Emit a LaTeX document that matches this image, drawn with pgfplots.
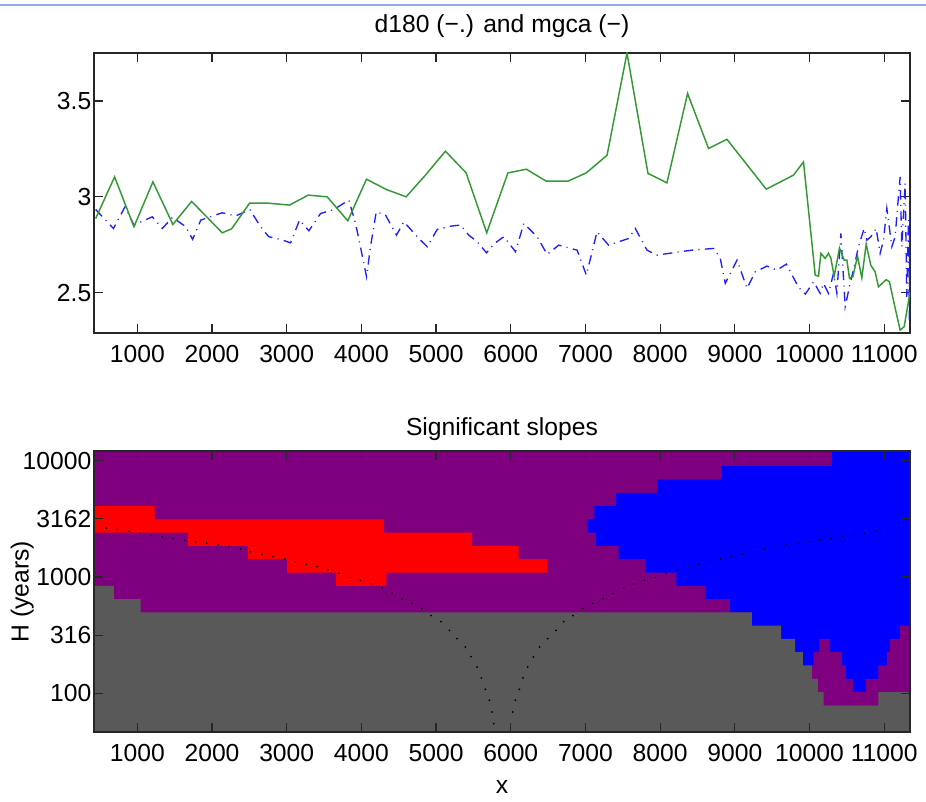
\documentclass[border=0pt]{standalone}
\usepackage{fontspec}
\setmainfont{Liberation Sans}
\usepackage{pgfplots}
\pgfplotsset{compat=1.18}
\definecolor{mpurple}{RGB}{127,0,127}
\definecolor{mred}{RGB}{255,0,0}
\definecolor{mblue}{RGB}{0,0,255}
\definecolor{mgray}{RGB}{89,89,89}
\definecolor{mgreen}{RGB}{51,153,51}
\definecolor{lblue}{RGB}{30,30,255}
\definecolor{topline}{RGB}{143,170,220}
\pgfplotsset{
  mystyle/.style={
    scale only axis, width=612pt, xmin=420, xmax=11345,
    axis line style={black!85, line width=0.9pt},
    tick style={black!85, line width=0.9pt},
    major tick length=6.5pt, tick align=inside,
    xtick={1000,2000,3000,4000,5000,6000,7000,8000,9000,10000,11000},
    xticklabels={1000,2000,3000,4000,5000,6000,7000,8000,9000,10000,11000},
    scaled ticks=false,
    /pgf/number format/1000 sep={},
    /pgf/number format/assume math mode=true,
    xticklabel style={yshift=-6pt},
    yticklabel style={xshift=1.5pt},
    every axis title shift=0pt,
    title style={at={(axis description cs:0.5,1)}, anchor=south},
  }
}
\begin{document}
\begin{tikzpicture}[font=\fontsize{18.5}{22}\selectfont]
\useasboundingbox (-70.5pt,-51.75pt) rectangle (624pt,549pt);
\draw[topline, line width=0.9pt] (-70.5pt,545.25pt) -- (624pt,545.25pt);

% ---------------- top panel ----------------
\begin{axis}[mystyle, at={(0,299.25pt)}, anchor=south west, height=210pt,
  ymin=2.29, ymax=3.75, ytick={2.5,3,3.5}, yticklabels={2.5,3,3.5},
  title={d180 (−.) and mgca (−)}, title style={yshift=8pt}]
\addplot[lblue, line width=1pt, dash pattern=on 7pt off 4pt on 0.8pt off 4pt] coordinates {
(442,2.934) (680,2.835) (835,2.948) (955,2.853) (1200,2.896) (1335,2.835)
(1470,2.893) (1650,2.844) (1740,2.778) (1850,2.879) (2137,2.917) (2315,2.90)
(2506,2.934) (2650,2.844) (2760,2.792) (2918,2.778) (3052,2.76) (3172,2.879)
(3297,2.823) (3453,2.913) (3631,2.934) (3832,2.983) (3922,2.861) (3998,2.719)
(4069,2.583) (4122,2.74) (4199,2.922) (4323,2.905) (4470,2.80) (4568,2.87)
(4769,2.783) (4881,2.74) (5015,2.83) (5193,2.847) (5327,2.853) (5438,2.80)
(5550,2.766) (5675,2.708) (5782,2.757) (5907,2.792) (6063,2.714) (6174,2.861)
(6353,2.792) (6487,2.70) (6642,2.748) (6888,2.722) (7012,2.592) (7155,2.818)
(7310,2.748) (7578,2.783) (7667,2.835) (7824,2.722) (7958,2.696) (8270,2.714)
(8427,2.722) (8716,2.731) (8805,2.679) (8872,2.549) (9029,2.67) (9163,2.523)
(9274,2.609) (9430,2.639) (9564,2.618) (9689,2.649) (9854,2.528) (9944,2.493)
(10055,2.557) (10142,2.497) (10187,2.549) (10254,2.497) (10321,2.601) (10366,2.497)
(10420,2.809) (10477,2.427) (10544,2.549) (10588,2.618) (10655,2.74) (10731,2.835)
(10767,2.774) (10821,2.792) (10892,2.835) (10945,2.705) (10990,2.774) (11035,2.94)
(11102,2.74) (11146,2.792) (11190,3.0) (11213,3.104) (11235,2.74) (11280,3.07)
(11302,2.479) (11324,2.879) (11337,2.358) (11342,3.0) (11345,2.5)
};
\addplot[mgreen, line width=1.1pt] coordinates {
(442,2.887) (696,3.104) (955,2.844) (1209,3.078) (1476,2.856) (1727,2.976)
(2137,2.8125) (2262,2.833) (2503,2.967) (2753,2.967) (3038,2.957) (3288,3.009)
(3542,3.0) (3818,2.875) (4068,3.092) (4336,3.038) (4599,3.0) (4857,3.113)
(5125,3.238) (5402,3.125) (5678,2.8125) (5962,3.125) (6209,3.144) (6472,3.082)
(6767,3.082) (7012,3.125) (7289,3.217) (7556,3.75) (7837,3.122) (8091,3.073)
(8367,3.539) (8648,3.252) (8894,3.30) (9420,3.04) (9785,3.113) (9919,3.182)
(10076,2.592) (10120,2.586) (10152,2.705) (10209,2.679) (10254,2.705) (10286,2.679)
(10330,2.586) (10401,2.733) (10464,2.67) (10500,2.67) (10535,2.575) (10580,2.583)
(10642,2.691) (10700,2.578) (10758,2.753) (10821,2.643) (10878,2.609) (10923,2.531)
(11026,2.568) (11070,2.557) (11146,2.42) (11213,2.305) (11267,2.323) (11347,2.505)
};
\end{axis}

% ---------------- bottom panel ----------------
\begin{axis}[mystyle, at={(0,0)}, anchor=south west, height=210.75pt,
  ymin=1.667, ymax=4.083, ytick={2,2.5,3,3.5,4}, yticklabels={100,316,1000,3162,10000},
  title={Significant slopes}, title style={yshift=4pt},
  xlabel={x}, xlabel style={at={(axis description cs:0.5,0)}, anchor=north, yshift=-33pt},
  ylabel={H (years)}, ylabel style={at={(axis description cs:-0.088,0.5)}, anchor=center},
  axis on top]
% purple background
\addplot[fill=mpurple, draw=none] coordinates {(420,1.667) (11345,1.667) (11345,4.083) (420,4.083)} -- cycle;
% blue region (envelope)
\addplot[fill=mblue, draw=none] coordinates {
(10299,4.083) (11345,4.083) (11345,1.667) (9229,1.667) (9229,2.696) (8938,2.696)
(8938,2.810) (8604,2.810) (8604,2.924) (8216,2.924) (8216,3.038) (7810,3.038)
(7810,3.153) (7444,3.153) (7444,3.267) (7141,3.267) (7141,3.381) (7029,3.381)
(7029,3.495) (7119,3.495) (7119,3.610) (7409,3.610) (7409,3.724) (7962,3.724)
(7962,3.838) (8827,3.838) (8827,3.952) (10299,3.952)} -- cycle;
% purple pocket below blue
\addplot[fill=mpurple, draw=none] coordinates {
(11345,2.581) (11213,2.581) (11213,2.467) (11079,2.467) (11079,2.353) (11035,2.353)
(11035,2.239) (10923,2.239) (10923,2.124) (10758,2.124) (10758,2.010) (10580,2.010)
(10580,2.124) (10486,2.124) (10486,2.239) (10433,2.239) (10433,2.353) (10276,2.353)
(10276,2.467) (10133,2.467) (10133,2.353) (10053,2.353) (10053,2.239) (10032,2.239)
(10032,1.896) (11345,1.896)} -- cycle;
% red region
\addplot[fill=mred, draw=none] coordinates {
(420,3.610) (1231,3.610) (1231,3.495) (4300,3.495) (4300,3.381) (5482,3.381)
(5482,3.267) (6106,3.267) (6106,3.153) (6486,3.153) (6486,3.038) (4336,3.038)
(4336,2.924) (3663,2.924) (3663,3.038) (3007,3.038) (3007,3.153) (2485,3.153)
(2485,3.267) (1677,3.267) (1677,3.381) (420,3.381)} -- cycle;
% gray region
\addplot[fill=mgray, draw=none] coordinates {
(420,1.667) (420,2.924) (687,2.924) (687,2.810) (1044,2.810) (1044,2.696)
(9229,2.696) (9229,2.581) (9621,2.581) (9621,2.467) (9808,2.467) (9808,2.353)
(9911,2.353) (9911,2.239) (10032,2.239) (10032,2.124) (10112,2.124) (10112,2.010)
(10187,2.010) (10187,1.896) (10923,1.896) (10923,2.010) (11345,2.010) (11345,1.667)} -- cycle;
% dotted curve
\addplot[only marks, mark=*, mark size=0.45pt, black] coordinates {
(585,3.4185) (732,3.410) (888,3.393) (1035,3.3755) (1187,3.361) (1334,3.344)
(1481,3.330) (1637,3.315) (1780,3.301) (1927,3.292) (2083,3.275) (2226,3.258)
(2382,3.241) (2516,3.218) (2672,3.195) (2819,3.175) (2975,3.155) (3114,3.129)
(3265,3.109) (3408,3.089) (3555,3.060) (3698,3.032) (3845,2.997) (3988,2.971)
(4135,2.940) (4278,2.905) (4411,2.860) (4545,2.811) (4679,2.774) (4813,2.728)
(4933,2.668) (5067,2.616) (5179,2.541) (5281,2.470) (5393,2.398) (5468,2.315)
(5549,2.226) (5607,2.132) (5660,2.034) (5714,1.940) (5750,1.839) (5772,1.739)
(6026,1.839) (6062,1.940) (6115,2.034) (6164,2.132) (6227,2.226) (6302,2.312)
(6387,2.398) (6494,2.470) (6606,2.541) (6708,2.616) (6833,2.668) (6963,2.728)
(7097,2.774) (7235,2.811) (7369,2.857) (7511,2.905) (7645,2.940) (7792,2.971)
(7935,2.997) (8078,3.032) (8225,3.060) (8368,3.089) (8515,3.109) (8662,3.129)
(8805,3.155) (8952,3.175) (9103,3.195) (9251,3.218) (9398,3.241) (9545,3.258)
(9697,3.275) (9844,3.292) (9995,3.301) (10142,3.315) (10290,3.330) (10441,3.344)
(10588,3.361) (10735,3.376) (10892,3.393) (11044,3.410) (11200,3.424)
};
\end{axis}
\end{tikzpicture}
\end{document}
